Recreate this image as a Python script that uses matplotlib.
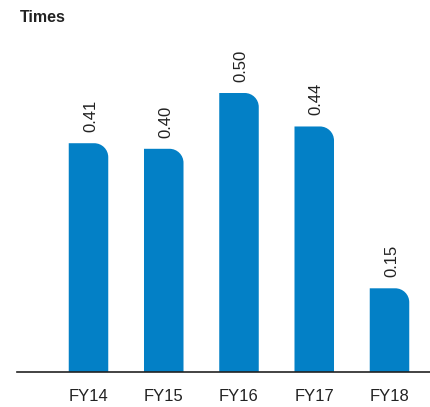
import matplotlib
matplotlib.use("Agg")
import matplotlib.pyplot as plt
from matplotlib.path import Path
from matplotlib.patches import PathPatch

categories = ["FY14", "FY15", "FY16", "FY17", "FY18"]
values = [0.41, 0.40, 0.50, 0.44, 0.15]
labels = ["0.41", "0.40", "0.50", "0.44", "0.15"]

COLOR = "#0380c6"
W, H = 430, 407
fig = plt.figure(figsize=(W / 100, H / 100), dpi=100)
ax_left, ax_bottom, ax_w, ax_h = 17, 35, 413, 342
ax = fig.add_axes([ax_left / W, ax_bottom / H, ax_w / W, ax_h / H])

unit_x = 75.25   # px per category
unit_y = 558.0   # px per value unit
x0 = 88.5
ax.set_xlim((ax_left - x0) / unit_x, (ax_left + ax_w - x0) / unit_x)
ax.set_ylim(0, ax_h / unit_y)

bw = 0.525
r_px = 14
rx = r_px / unit_x
ry = r_px / unit_y
k = 0.5523

xs = list(range(len(categories)))
bars = ax.bar(xs, values, width=bw, color=COLOR, alpha=0)  # positions via library
for b in bars:
    x_l = b.get_x()
    x_r = x_l + b.get_width()
    top = b.get_height()
    verts = [
        (x_l, 0), (x_l, top), (x_r - rx, top),
        (x_r - rx + k * rx, top), (x_r, top - ry + k * ry), (x_r, top - ry),
        (x_r, 0), (x_l, 0),
    ]
    codes = [Path.MOVETO, Path.LINETO, Path.LINETO,
             Path.CURVE4, Path.CURVE4, Path.CURVE4,
             Path.LINETO, Path.CLOSEPOLY]
    ax.add_patch(PathPatch(Path(verts, codes), facecolor=COLOR, edgecolor="none"))

for x, v, lab in zip(xs, values, labels):
    ax.annotate(lab, (x, v), xytext=(1.5, 8), textcoords="offset points",
                rotation=90, ha="center", va="bottom",
                fontsize=12, family="Liberation Sans", color="#222222")

ax.set_xticks(xs)
ax.set_xticklabels(categories, fontsize=12, family="Liberation Sans", color="#222222")
ax.tick_params(axis="x", length=0, pad=12)
ax.set_yticks([])
for s in ["top", "right", "left"]:
    ax.spines[s].set_visible(False)
ax.spines["bottom"].set_color("#222222")
ax.spines["bottom"].set_linewidth(1.2)

fig.text(20 / W, 1 - 22 / H, "Times", fontsize=11.5, fontweight="bold",
         family="Liberation Sans", color="#222222", ha="left", va="baseline")

fig.savefig("out.png", dpi=100)
